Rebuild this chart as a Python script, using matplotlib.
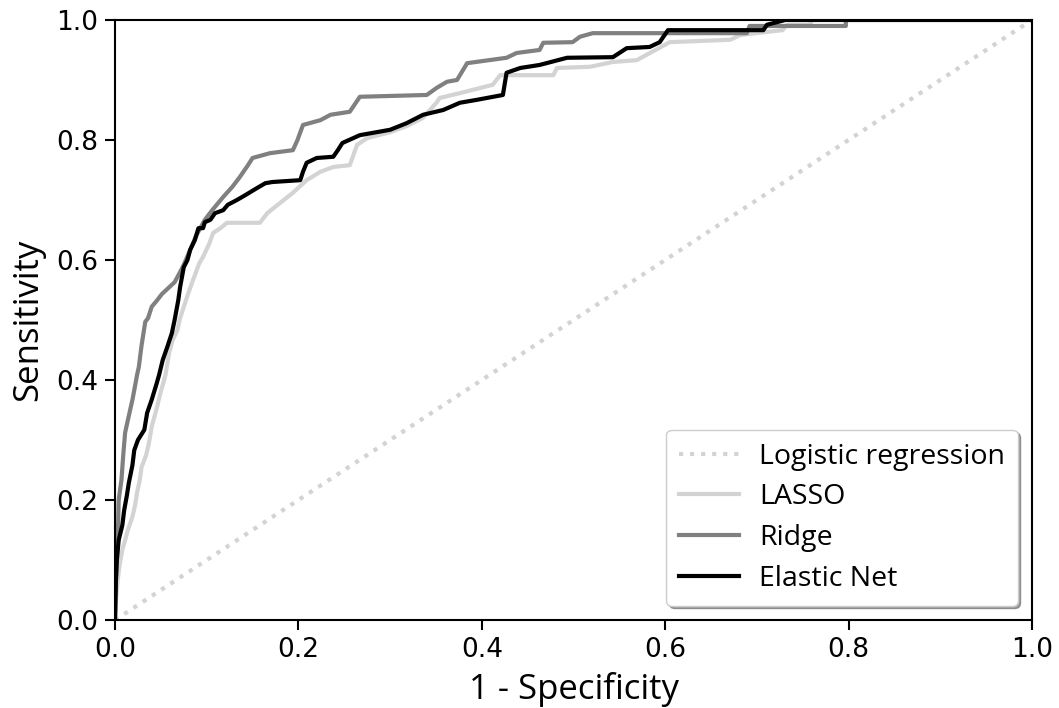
import numpy as np
import matplotlib.pyplot as plt

# ROC points (1 - specificity, sensitivity)
lasso_fpr = [0.0, 0.001, 0.003, 0.005, 0.008, 0.011, 0.014, 0.019, 0.022, 0.024, 0.027, 0.029, 0.034, 0.037,
             0.040, 0.045, 0.049, 0.055, 0.059, 0.063, 0.068, 0.071, 0.075, 0.080, 0.084, 0.092, 0.096, 0.103,
             0.107, 0.115, 0.122, 0.158, 0.166, 0.180, 0.194, 0.209, 0.224, 0.238, 0.256, 0.264, 0.275, 0.300,
             0.318, 0.336, 0.351, 0.354, 0.376, 0.412, 0.420, 0.478, 0.482, 0.518, 0.543, 0.569, 0.605, 0.671,
             0.682, 0.728, 0.733, 0.758, 0.760, 1.0]
lasso_tpr = [0.0, 0.033, 0.067, 0.092, 0.117, 0.133, 0.150, 0.172, 0.192, 0.212, 0.233, 0.255, 0.275, 0.295,
             0.322, 0.350, 0.375, 0.408, 0.445, 0.467, 0.483, 0.503, 0.522, 0.545, 0.562, 0.595, 0.605, 0.628,
             0.645, 0.653, 0.662, 0.662, 0.678, 0.695, 0.712, 0.733, 0.747, 0.755, 0.758, 0.792, 0.803, 0.813,
             0.823, 0.837, 0.863, 0.870, 0.878, 0.892, 0.908, 0.908, 0.920, 0.922, 0.930, 0.933, 0.963, 0.967,
             0.975, 0.983, 0.992, 0.992, 1.0, 1.0]

ridge_fpr = [0.0, 0.001, 0.002, 0.003, 0.004, 0.007, 0.009, 0.011, 0.014, 0.019, 0.021, 0.024, 0.026, 0.029,
             0.033, 0.036, 0.040, 0.046, 0.051, 0.058, 0.065, 0.071, 0.075, 0.082, 0.089, 0.098, 0.106, 0.118,
             0.128, 0.136, 0.145, 0.150, 0.169, 0.194, 0.199, 0.205, 0.224, 0.235, 0.256, 0.267, 0.340, 0.351,
             0.362, 0.373, 0.384, 0.427, 0.438, 0.463, 0.467, 0.499, 0.507, 0.521, 0.689, 0.692, 0.797, 0.797, 1.0]
ridge_tpr = [0.0, 0.067, 0.100, 0.133, 0.200, 0.233, 0.275, 0.312, 0.333, 0.367, 0.383, 0.408, 0.422, 0.458,
             0.497, 0.503, 0.522, 0.533, 0.543, 0.553, 0.563, 0.580, 0.592, 0.617, 0.642, 0.667, 0.683, 0.705,
             0.722, 0.738, 0.758, 0.770, 0.778, 0.783, 0.800, 0.825, 0.833, 0.842, 0.847, 0.872, 0.875, 0.887,
             0.897, 0.900, 0.928, 0.937, 0.945, 0.950, 0.962, 0.963, 0.972, 0.978, 0.978, 0.990, 0.990, 1.0, 1.0]

enet_fpr = [0.0, 0.001, 0.002, 0.004, 0.008, 0.010, 0.013, 0.015, 0.019, 0.021, 0.025, 0.032, 0.035, 0.040,
            0.045, 0.048, 0.052, 0.057, 0.062, 0.065, 0.069, 0.071, 0.075, 0.079, 0.082, 0.087, 0.091, 0.096,
            0.098, 0.104, 0.109, 0.118, 0.123, 0.133, 0.142, 0.155, 0.164, 0.172, 0.202, 0.205, 0.209, 0.220,
            0.238, 0.243, 0.248, 0.267, 0.300, 0.318, 0.336, 0.358, 0.376, 0.395, 0.423, 0.427, 0.442, 0.463,
            0.493, 0.543, 0.558, 0.583, 0.594, 0.603, 0.707, 0.711, 0.731, 1.0]
enet_tpr = [0.0, 0.067, 0.100, 0.133, 0.158, 0.183, 0.208, 0.228, 0.258, 0.283, 0.300, 0.317, 0.345, 0.367,
            0.392, 0.408, 0.433, 0.455, 0.478, 0.500, 0.533, 0.555, 0.588, 0.600, 0.617, 0.633, 0.653, 0.653,
            0.663, 0.667, 0.678, 0.683, 0.692, 0.700, 0.708, 0.720, 0.728, 0.730, 0.733, 0.747, 0.762, 0.770,
            0.772, 0.783, 0.795, 0.808, 0.817, 0.828, 0.842, 0.850, 0.862, 0.867, 0.875, 0.912, 0.920, 0.925,
            0.937, 0.938, 0.953, 0.955, 0.963, 0.983, 0.983, 0.992, 1.0, 1.0]

logit_fpr = [0.0, 1.0]
logit_tpr = [0.0, 1.0]

label_font = "Open Sans"

fig = plt.figure(figsize=(10.59, 7.08), dpi=100)
ax = fig.add_axes([0.1086, 0.1243, 0.8659, 0.8475])

ax.plot(logit_fpr, logit_tpr, linestyle=":", color="lightgray", lw=3, label="Logistic regression")
ax.plot(lasso_fpr, lasso_tpr, color="lightgray", lw=3, label="LASSO")
ax.plot(ridge_fpr, ridge_tpr, color="gray", lw=3, label="Ridge")
ax.plot(enet_fpr, enet_tpr, color="black", lw=3, label="Elastic Net")

ax.set_xlim(0, 1)
ax.set_ylim(0, 1)
ticks = np.arange(0, 1.01, 0.2)
ax.set_xticks(ticks)
ax.set_yticks(ticks)
ax.tick_params(labelsize=19, length=7, width=1.5, pad=5)
for s in ax.spines.values():
    s.set_linewidth(1.5)

ax.set_xlabel("1 - Specificity", fontsize=25, family=label_font, labelpad=7)
ax.set_ylabel("Sensitivity", fontsize=25, family=label_font, labelpad=8)

leg = ax.legend(loc="lower right", fancybox=True, shadow=True, prop={"family": label_font, "size": 20.5},
                handlelength=2.1, handletextpad=0.7, borderaxespad=0.5, labelspacing=0.45,
                borderpad=0.45)

fig.savefig("out.png", dpi=100)
